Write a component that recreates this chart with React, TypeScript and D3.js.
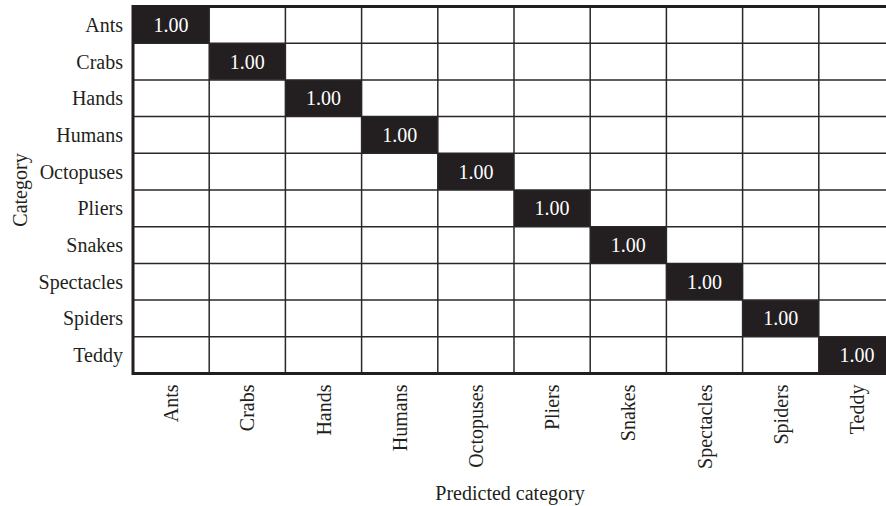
import React from "react";
import * as d3 from "d3";

// Class names, shared by both axes
const categories = [
  "Ants",
  "Crabs",
  "Hands",
  "Humans",
  "Octopuses",
  "Pliers",
  "Snakes",
  "Spectacles",
  "Spiders",
  "Teddy",
];

// Confusion matrix: rows = true category, columns = predicted category
const matrix: number[][] = [
  [1, 0, 0, 0, 0, 0, 0, 0, 0, 0],
  [0, 1, 0, 0, 0, 0, 0, 0, 0, 0],
  [0, 0, 1, 0, 0, 0, 0, 0, 0, 0],
  [0, 0, 0, 1, 0, 0, 0, 0, 0, 0],
  [0, 0, 0, 0, 1, 0, 0, 0, 0, 0],
  [0, 0, 0, 0, 0, 1, 0, 0, 0, 0],
  [0, 0, 0, 0, 0, 0, 1, 0, 0, 0],
  [0, 0, 0, 0, 0, 0, 0, 1, 0, 0],
  [0, 0, 0, 0, 0, 0, 0, 0, 1, 0],
  [0, 0, 0, 0, 0, 0, 0, 0, 0, 1],
];

const xTitle = "Predicted category";
const yTitle = "Category";

const W = 886;
const H = 506;
const FONT = "'Liberation Serif', 'DejaVu Serif', serif";
const INK = "#231f20";
const FS = 20;

export default function App() {
  const left = 133;
  const top = 6.5;
  const cellW = 76.2;
  const cellH = 36.7;
  const right = left + cellW * categories.length;
  const bottom = top + cellH * categories.length;

  const x = d3.scaleBand<string>().domain(categories).range([left, right]);
  const y = d3.scaleBand<string>().domain(categories).range([top, bottom]);
  const color = d3.scaleLinear<string>().domain([0, 1]).range(["#ffffff", INK]);
  const fmt = d3.format(".2f");

  const cells = matrix.flatMap((row, i) =>
    row.map((v, j) => ({ r: categories[i], c: categories[j], v }))
  );

  return (
    <svg
      width={W}
      height={H}
      style={{ position: "absolute", left: 0, top: 0, background: "#fff" }}
      fontFamily={FONT}
    >
      {cells.map((d) => (
        <rect
          key={`cell-${d.r}-${d.c}`}
          x={x(d.c)}
          y={y(d.r)}
          width={x.bandwidth()}
          height={y.bandwidth()}
          fill={color(d.v)}
        />
      ))}

      {/* inner grid lines */}
      {categories.slice(1).map((c) => (
        <line
          key={`vl-${c}`}
          x1={x(c)}
          x2={x(c)}
          y1={top}
          y2={bottom}
          stroke="#2a2728"
          strokeWidth={1.5}
        />
      ))}
      {categories.slice(1).map((c) => (
        <line
          key={`hl-${c}`}
          x1={left}
          x2={right}
          y1={y(c)}
          y2={y(c)}
          stroke="#2a2728"
          strokeWidth={1.5}
        />
      ))}

      {/* outer frame */}
      <rect
        x={left}
        y={top}
        width={right - left}
        height={bottom - top}
        fill="none"
        stroke={INK}
        strokeWidth={3}
      />

      {cells
        .filter((d) => d.v > 0)
        .map((d) => (
          <text
            key={`val-${d.r}-${d.c}`}
            x={(x(d.c) ?? 0) + x.bandwidth() / 2}
            y={(y(d.r) ?? 0) + y.bandwidth() / 2}
            textAnchor="middle"
            dominantBaseline="central"
            fontSize={FS}
            fill={d.v > 0.5 ? "#ffffff" : INK}
          >
            {fmt(d.v)}
          </text>
        ))}

      {/* row labels */}
      {categories.map((c) => (
        <text
          key={`yl-${c}`}
          x={left - 10}
          y={(y(c) ?? 0) + y.bandwidth() / 2}
          textAnchor="end"
          dominantBaseline="central"
          fontSize={FS}
          fill={INK}
        >
          {c}
        </text>
      ))}

      {/* column labels, rotated */}
      {categories.map((c) => {
        const cx = (x(c) ?? 0) + x.bandwidth() / 2;
        const ty = bottom + 11;
        return (
          <text
            key={`xl-${c}`}
            transform={`translate(${cx},${ty}) rotate(-90)`}
            textAnchor="end"
            dominantBaseline="central"
            fontSize={FS}
            fill={INK}
          >
            {c}
          </text>
        );
      })}

      <text
        x={(left + right) / 2 - 4}
        y={493}
        textAnchor="middle"
        dominantBaseline="central"
        fontSize={FS}
        fill={INK}
      >
        {xTitle}
      </text>

      <text
        transform={`translate(20,${(top + bottom) / 2}) rotate(-90)`}
        textAnchor="middle"
        dominantBaseline="central"
        fontSize={FS}
        fill={INK}
      >
        {yTitle}
      </text>
    </svg>
  );
}
